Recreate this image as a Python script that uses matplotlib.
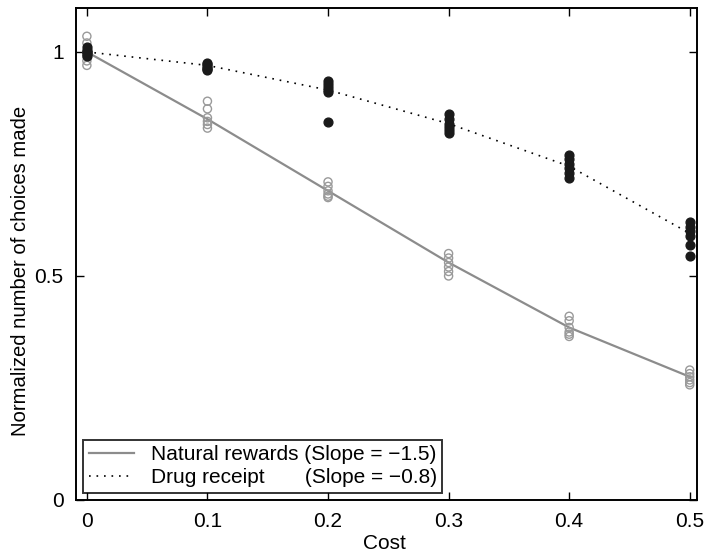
import numpy as np
import matplotlib.pyplot as plt

plt.rcParams['font.family'] = ['Liberation Sans', 'DejaVu Sans']

# cost levels
costs = [0.0, 0.1, 0.2, 0.3, 0.4, 0.5]

# individual subjects, natural rewards (open grey circles)
natural_points = [
    [1.035, 1.02, 1.0, 0.99, 0.98, 0.97],
    [0.89, 0.873, 0.853, 0.845, 0.838, 0.83],
    [0.71, 0.70, 0.69, 0.683, 0.678, 0.675],
    [0.55, 0.54, 0.53, 0.52, 0.51, 0.50],
    [0.41, 0.40, 0.385, 0.375, 0.37, 0.365],
    [0.29, 0.282, 0.275, 0.268, 0.262, 0.257],
]

# individual subjects, drug receipt (filled black circles)
drug_points = [
    [1.01, 1.005, 1.0, 0.995, 0.99, 1.0],
    [0.975, 0.972, 0.968, 0.965, 0.962, 0.96],
    [0.935, 0.928, 0.922, 0.915, 0.91, 0.844],
    [0.862, 0.85, 0.84, 0.832, 0.825, 0.818],
    [0.77, 0.76, 0.75, 0.742, 0.73, 0.718],
    [0.62, 0.61, 0.60, 0.59, 0.57, 0.545],
]

# fitted curves
natural_fit = [1.0, 0.85, 0.69, 0.53, 0.385, 0.275]
drug_fit = [1.0, 0.97, 0.915, 0.84, 0.745, 0.595]

natural_label = 'Natural rewards (Slope = \u22121.5)'
drug_label = 'Drug receipt       (Slope = \u22120.8)'

fig = plt.figure(figsize=(7.04, 5.54), dpi=100)
ax = fig.add_axes([0.108, 0.0975, 0.882, 0.888])

ax.plot(costs, natural_fit, '-', color='#8c8c8c', lw=1.6, label=natural_label, zorder=2)
ax.plot(costs, drug_fit, color='black', lw=1.2, linestyle=(0, (1, 3.5)), label=drug_label, zorder=2)

for c, ys in zip(costs, natural_points):
    ax.scatter([c] * len(ys), ys, s=34, facecolors='none', edgecolors='#9a9a9a',
               linewidths=1.0, zorder=3)
for c, ys in zip(costs, drug_points):
    ax.scatter([c] * len(ys), ys, s=40, color='#1a1a1a', zorder=4)

ax.set_xlim(-0.009, 0.506)
ax.set_ylim(0, 1.098)
ax.set_xticks(costs)
ax.set_xticklabels(['0', '0.1', '0.2', '0.3', '0.4', '0.5'])
ax.set_yticks([0, 0.5, 1])
ax.set_yticklabels(['0', '0.5', '1'])
ax.tick_params(direction='in', top=True, right=True, labelsize=15, length=6, width=1)
ax.tick_params(axis='x', pad=9)
ax.tick_params(axis='y', pad=9)
for sp in ax.spines.values():
    sp.set_linewidth(1.4)

ax.set_xlabel('Cost', fontsize=15)
ax.set_ylabel('Normalized number of choices made', fontsize=14.6)
ax.xaxis.set_label_coords(0.496, -0.07)
ax.yaxis.set_label_coords(-0.074, 0.465)

leg = ax.legend(loc='lower left', fontsize=15, frameon=True, fancybox=False,
                borderaxespad=0.35, handlelength=2.2, borderpad=0.25,
                labelspacing=0.2, handletextpad=0.8)
leg.get_frame().set_edgecolor('black')
leg.get_frame().set_linewidth(1.4)

fig.savefig('out.png', dpi=100)
